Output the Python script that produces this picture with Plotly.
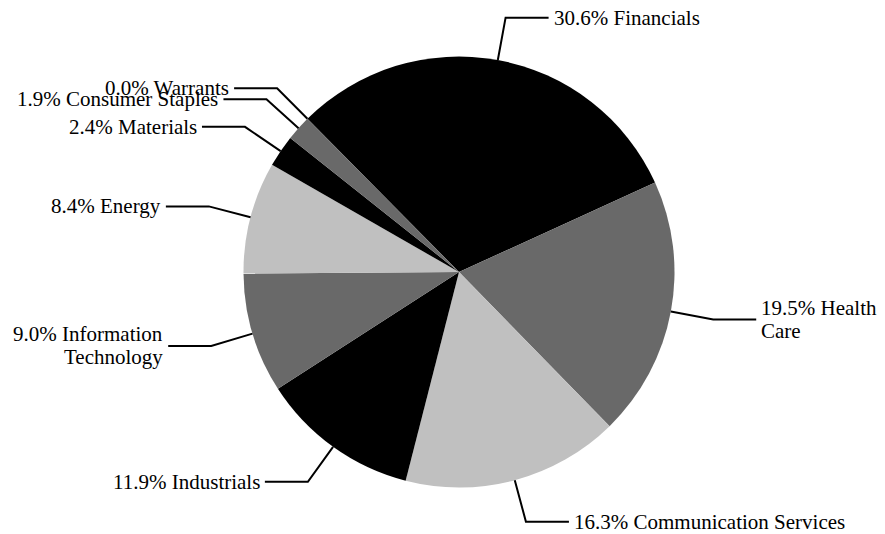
import math
import plotly.graph_objects as go

# ---- data ----
sectors = ["Financials", "Health Care", "Communication Services", "Industrials",
           "Information Technology", "Energy", "Materials", "Consumer Staples", "Warrants"]
weights = [30.6, 19.5, 16.3, 11.9, 9.0, 8.4, 2.4, 1.9, 0.0]
label_lines = [["Financials"], ["Health", "Care"], ["Communication Services"], ["Industrials"],
               ["Information", "Technology"], ["Energy"], ["Materials"], ["Consumer Staples"],
               ["Warrants"]]
colors = ["#000000", "#696969", "#c0c0c0", "#000000", "#696969", "#c0c0c0",
          "#000000", "#696969", "#c0c0c0"]

# ---- layout constants ----
W, H = 885, 534
CX, CY, R = 459.0, 272.0, 215.5
ROT = -44.7
FAMILY = "Liberation Serif"
FSIZE = 21
LINE_H = 23
HSEG = 43
GAP = 3

fig = go.Figure()
fig.add_trace(go.Pie(
    labels=sectors, values=weights, sort=False, direction="clockwise",
    rotation=ROT, textinfo="none", hoverinfo="label+percent",
    marker=dict(colors=colors, line=dict(width=0)),
    domain=dict(x=[(CX - R) / W, (CX + R) / W],
                y=[(H - CY - R) / H, (H - CY + R) / H]),
    showlegend=False,
))

def px(x):
    return x / W

def py(y):
    return 1 - y / H

total = sum(weights)
cum = 0.0
for name, v, lines in zip(sectors, weights, label_lines):
    mid = ROT + (cum + v / 2) / total * 360.0
    cum += v
    a = math.radians(mid)
    ex, ey = CX + R * math.sin(a), CY - R * math.cos(a)
    bx, by = CX + 1.2 * R * math.sin(a), CY - 1.2 * R * math.cos(a)
    right = (mid % 360) < 180
    tx = bx + HSEG if right else bx - HSEG
    fig.add_shape(type="path", xref="paper", yref="paper",
                  path=f"M {px(ex)} {py(ey)} L {px(bx)} {py(by)} L {px(tx)} {py(by)}",
                  line=dict(color="black", width=2))
    text_lines = list(lines)
    text_lines[0] = f"{v:.1f}% " + text_lines[0]
    n = len(text_lines)
    for i, t in enumerate(text_lines):
        yy = by + (i - (n - 1) / 2) * LINE_H
        fig.add_annotation(
            x=px(tx + (GAP if right else -GAP)), y=py(yy), xref="paper", yref="paper",
            text=t, showarrow=False,
            font=dict(family=FAMILY, size=FSIZE, color="black"),
            xanchor="left" if right else "right", yanchor="middle",
            align="left" if right else "right")

fig.update_layout(
    width=W, height=H, margin=dict(l=0, r=0, t=0, b=0),
    font=dict(family=FAMILY, size=FSIZE, color="black"),
    paper_bgcolor="white", plot_bgcolor="white",
)
fig.write_html("out.html")
